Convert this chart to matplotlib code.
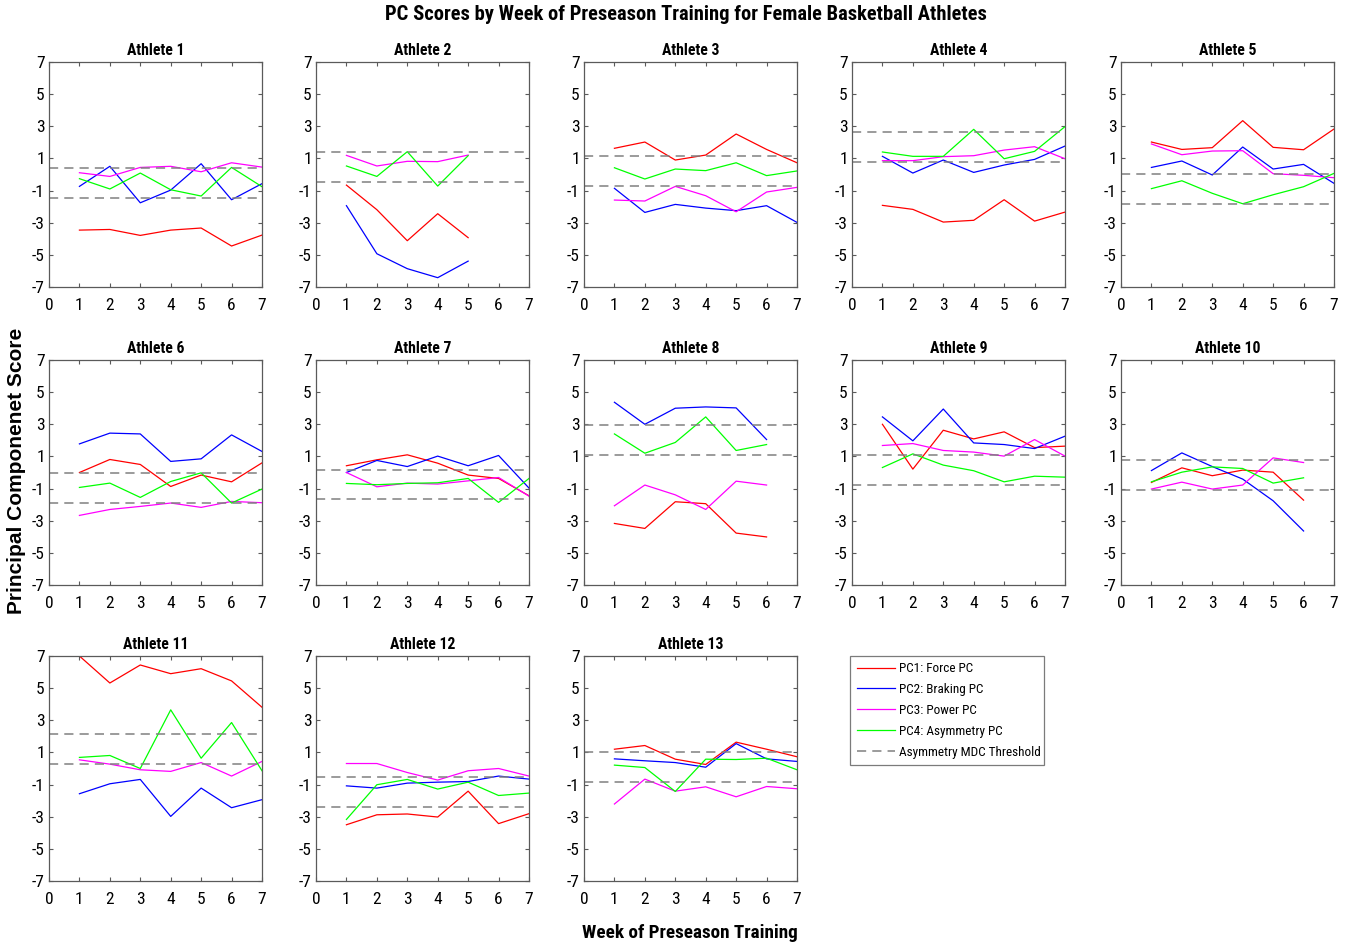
import matplotlib
matplotlib.use('Agg')
import matplotlib.pyplot as plt
from matplotlib import font_manager

# --- Data (one list per athlete) ---
athletes = ['Athlete %d' % i for i in range(1, 14)]

pc1_force = [
    [-3.46, -3.42, -3.79, -3.46, -3.33, -4.45, -3.77],
    [-0.66, -2.19, -4.12, -2.44, -3.93],
    [1.63, 2.02, 0.90, 1.21, 2.52, 1.56, 0.73],
    [-1.92, -2.17, -2.96, -2.85, -1.57, -2.90, -2.34],
    [2.02, 1.56, 1.67, 3.35, 1.69, 1.54, 2.83],
    [0.00, 0.81, 0.50, -0.87, -0.16, -0.58, 0.60],
    [0.42, 0.79, 1.10, 0.58, -0.16, -0.37, -1.45],
    [-3.17, -3.48, -1.82, -1.94, -3.77, -4.01],
    [3.00, 0.21, 2.63, 2.09, 2.53, 1.55, 1.64],
    [-0.62, 0.29, -0.20, 0.15, 0.02, -1.72],
    [7.00, 5.32, 6.44, 5.90, 6.21, 5.45, 3.81],
    [-3.50, -2.88, -2.83, -3.02, -1.41, -3.43, -2.81],
    [1.20, 1.43, 0.58, 0.25, 1.64, 1.20, 0.73],
]

pc2_braking = [
    [-0.74, 0.51, -1.76, -0.97, 0.67, -1.57, -0.57],
    [-1.94, -4.93, -5.86, -6.42, -5.39],
    [-0.86, -2.36, -1.86, -2.09, -2.25, -1.94, -2.98],
    [1.13, 0.09, 0.90, 0.13, 0.59, 0.94, 1.77],
    [0.44, 0.84, -0.03, 1.71, 0.34, 0.63, -0.55],
    [1.78, 2.45, 2.40, 0.69, 0.85, 2.34, 1.31],
    [0.00, 0.75, 0.37, 1.02, 0.42, 1.06, -0.97],
    [4.37, 3.00, 4.00, 4.08, 4.02, 2.05],
    [3.46, 1.97, 3.95, 1.84, 1.74, 1.49, 2.26],
    [0.12, 1.22, 0.37, -0.41, -1.76, -3.64],
    [-1.57, -0.95, -0.68, -2.98, -1.22, -2.44, -1.94],
    [-1.08, -1.22, -0.91, -0.85, -0.81, -0.47, -0.66],
    [0.60, 0.48, 0.37, 0.08, 1.55, 0.60, 0.44],
]

pc3_power = [
    [0.11, -0.12, 0.44, 0.51, 0.17, 0.73, 0.46],
    [1.19, 0.53, 0.82, 0.80, 1.21],
    [-1.59, -1.65, -0.74, -1.32, -2.32, -1.09, -0.80],
    [0.86, 0.86, 1.11, 1.17, 1.52, 1.73, 0.98],
    [1.90, 1.23, 1.46, 1.48, 0.05, -0.05, -0.20],
    [-2.67, -2.30, -2.11, -1.90, -2.17, -1.80, -1.88],
    [0.00, -0.89, -0.66, -0.72, -0.52, -0.31, -1.47],
    [-2.07, -0.78, -1.39, -2.30, -0.54, -0.78],
    [1.68, 1.80, 1.37, 1.27, 1.02, 2.05, 1.02],
    [-1.03, -0.60, -1.03, -0.78, 0.91, 0.62],
    [0.54, 0.27, -0.08, -0.18, 0.37, -0.47, 0.44],
    [0.31, 0.31, -0.25, -0.72, -0.14, 0.00, -0.47],
    [-2.21, -0.66, -1.41, -1.14, -1.76, -1.12, -1.26],
]

pc4_asym = [
    [-0.26, -0.90, 0.09, -0.95, -1.34, 0.44, -0.76],
    [0.53, -0.12, 1.42, -0.72, 1.17],
    [0.42, -0.28, 0.34, 0.24, 0.73, -0.07, 0.22],
    [1.40, 1.13, 1.13, 2.81, 0.98, 1.44, 2.98],
    [-0.88, -0.39, -1.17, -1.82, -1.26, -0.76, 0.07],
    [-0.93, -0.66, -1.55, -0.56, -0.02, -1.90, -1.03],
    [-0.68, -0.76, -0.68, -0.64, -0.37, -1.86, -0.37],
    [2.40, 1.20, 1.87, 3.46, 1.37, 1.74],
    [0.31, 1.16, 0.46, 0.11, -0.58, -0.23, -0.29],
    [-0.58, 0.02, 0.35, 0.25, -0.66, -0.33],
    [0.69, 0.81, 0.00, 3.65, 0.64, 2.86, -0.14],
    [-3.17, -1.01, -0.68, -1.28, -0.85, -1.68, -1.53],
    [0.21, 0.06, -1.43, 0.58, 0.56, 0.64, -0.08],
]

mdc_upper = [0.40, 1.40, 1.15, 2.62, 0.03, -0.02, 0.17, 2.94, 1.06, 0.77, 2.13, -0.52, 1.00]
mdc_lower = [-1.46, -0.45, -0.70, 0.78, -1.82, -1.88, -1.67, 1.08, -0.78, -1.07, 0.29, -2.38, -0.85]

series = [
    (pc1_force, '#ff0000', 'PC1: Force PC'),
    (pc2_braking, '#0000ff', 'PC2: Braking PC'),
    (pc3_power, '#ff00ff', 'PC3: Power PC'),
    (pc4_asym, '#00ff00', 'PC4: Asymmetry PC'),
]

# --- Fonts: a narrow sans like the MATLAB export, else plain Liberation Sans ---
names = {f.name for f in font_manager.fontManager.ttflist}
narrow = None
for cand in ['Liberation Sans Narrow', 'Roboto Condensed', 'Archivo Narrow']:
    if cand in names:
        narrow = cand
        break
scale = 1.0
if narrow is None:
    narrow = 'Liberation Sans'
    scale = 0.85
plt.rcParams['font.family'] = [narrow, 'DejaVu Sans']
plt.rcParams['axes.unicode_minus'] = False

W, H = 1355, 949
fig = plt.figure(figsize=(W / 100, H / 100), dpi=100)

col_left = [49, 316, 584, 852, 1121]
col_w = 213
row_top = [62, 360, 656]
row_h = 225

axis_col = '#5a5a5a'

for i, name in enumerate(athletes):
    r, c = divmod(i, 5)
    x0 = col_left[c]
    y0 = row_top[r]
    ax = fig.add_axes([x0 / W, 1 - (y0 + row_h) / H, col_w / W, row_h / H])
    for vals, color, label in series:
        weeks = list(range(1, len(vals[i]) + 1))
        ax.plot(weeks, vals[i], color=color, lw=0.9, label=label)
    ax.axhline(mdc_upper[i], color='#808080', ls=(0, (6, 4)), lw=1.1,
               label='Asymmetry MDC Threshold')
    ax.axhline(mdc_lower[i], color='#808080', ls=(0, (6, 4)), lw=1.1)
    ax.set_xlim(0, 7)
    ax.set_ylim(-7, 7)
    ax.set_xticks(range(0, 8))
    ax.set_yticks(range(-7, 8, 2))
    ax.tick_params(direction='in', top=True, right=True, length=3,
                   width=0.8, color=axis_col, labelsize=12.5 * scale)
    ax.tick_params(axis='x', pad=8)
    ax.tick_params(axis='y', pad=3)
    for s in ax.spines.values():
        s.set_color(axis_col)
        s.set_linewidth(0.9)
    ax.set_title(name, fontsize=11.3 * scale, fontweight='bold', pad=5)
    if i == 12:
        handles, labels = ax.get_legend_handles_labels()

# legend box placed in the empty grid slot
lax = fig.add_axes([850 / W, 1 - 766 / H, 194 / W, 111 / H])
lax.axis('off')
leg = lax.legend(handles, labels, loc='center', frameon=True, fontsize=9.5 * scale,
                 fancybox=False, edgecolor=axis_col, handlelength=2.9,
                 borderpad=0.5, labelspacing=0.6, handletextpad=0.3,
                 borderaxespad=0, mode='expand', bbox_to_anchor=(0, 0, 1, 1))
leg.get_frame().set_linewidth(0.9)

fig.text(686 / W, 1 - 14 / H, 'PC Scores by Week of Preseason Training for Female Basketball Athletes',
         ha='center', va='center', fontsize=14.8 * scale, fontweight='bold')
fig.text(690 / W, 1 - 933 / H, 'Week of Preseason Training',
         ha='center', va='center', fontsize=13.8 * scale, fontweight='bold')
fig.text(17 / W, 1 - 471 / H, 'Principal Componenet Score', rotation=90,
         ha='center', va='center', fontsize=15, fontweight='bold',
         family=['Liberation Sans', 'DejaVu Sans'])

fig.savefig('out.png', dpi=100)
